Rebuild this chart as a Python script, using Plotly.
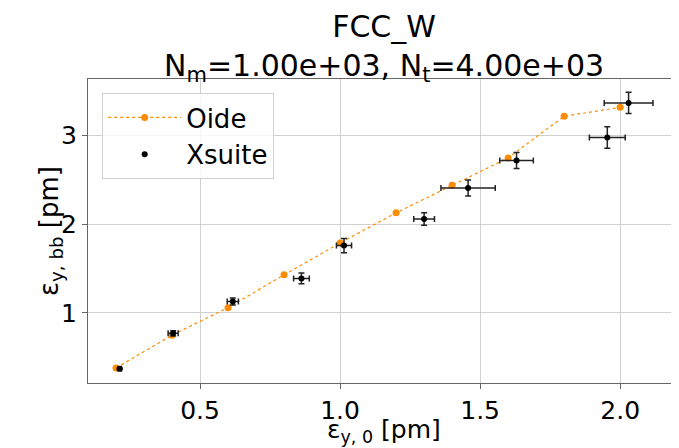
import plotly.graph_objects as go

# Oide (analytic) curve
oide_x = [0.2, 0.4, 0.6, 0.8, 1.0, 1.2, 1.4, 1.6, 1.8, 2.0]
oide_y = [0.38, 0.75, 1.06, 1.43, 1.79, 2.13, 2.44, 2.75, 3.22, 3.32]

# Xsuite simulation with errors
xs_x = [0.213, 0.404, 0.617, 0.862, 1.014, 1.30, 1.457, 1.63, 1.954, 2.03]
xs_y = [0.37, 0.77, 1.13, 1.39, 1.76, 2.06, 2.41, 2.72, 2.98, 3.37]
xs_xerr = [0.006, 0.018, 0.02, 0.028, 0.027, 0.037, 0.097, 0.06, 0.064, 0.087]
xs_yerr = [0.01, 0.03, 0.04, 0.06, 0.08, 0.07, 0.09, 0.09, 0.12, 0.12]

x_ticks = [0.5, 1.0, 1.5, 2.0]
y_ticks = [1, 2, 3]

fig = go.Figure()
fig.add_trace(go.Scatter(
    x=oide_x, y=oide_y, name="Oide", mode="lines+markers",
    line=dict(color="#ff8c00", dash="dot", width=1.2),
    marker=dict(color="#ff8c00", size=7),
))
fig.add_trace(go.Scatter(
    x=xs_x, y=xs_y, name="Xsuite", mode="markers",
    marker=dict(color="black", size=6),
    error_x=dict(type="data", array=xs_xerr, color="#222", thickness=1.5, width=3),
    error_y=dict(type="data", array=xs_yerr, color="#222", thickness=1.5, width=3),
))

font = "DejaVu Sans"
# page has an 8px body margin, so the figure is sized to fill the rest of the window
fig.update_layout(
    width=671, height=440,
    margin=dict(l=80, r=0, t=71, b=65),
    paper_bgcolor="white", plot_bgcolor="white",
    font=dict(family=font, color="black", size=25),
    showlegend=True,
    legend=dict(
        x=0.024, y=0.954, xanchor="left", yanchor="top",
        bgcolor="rgba(255,255,255,0.8)", bordercolor="#d0d0d0", borderwidth=1,
        font=dict(size=26), itemwidth=73,
    ),
    annotations=[
        dict(text="FCC_W<br>N<sub>m</sub>=1.00e+03, N<sub>t</sub>=4.00e+03",
             x=0.5, xref="paper", xanchor="center",
             y=1, yref="paper", yanchor="bottom", yshift=-10,
             showarrow=False, font=dict(size=30)),
        dict(text="ε<sub>y, 0</sub> [pm]",
             x=0.5, xref="paper", xanchor="center",
             y=0, yref="paper", yanchor="middle", yshift=-48,
             showarrow=False, font=dict(size=25)),
        dict(text="ε<sub>y, bb</sub> [pm]", textangle=-90,
             x=0, xref="paper", xanchor="center", xshift=-38,
             y=0.5, yref="paper", yanchor="middle",
             showarrow=False, font=dict(size=26)),
    ],
)
fig.update_xaxes(
    range=[0.1, 2.21], tickvals=x_ticks, ticktext=["0.5", "1.0", "1.5", "2.0"],
    showgrid=True, gridcolor="#d0d0d0", gridwidth=1,
    showline=True, linecolor="#666", linewidth=1, mirror=True,
    ticks="outside", ticklen=5, tickcolor="#666", zeroline=False, automargin=False,
)
fig.update_yaxes(
    range=[0.21, 3.64], tickvals=y_ticks,
    showgrid=True, gridcolor="#d0d0d0", gridwidth=1,
    showline=True, linecolor="#666", linewidth=1, mirror=True,
    ticks="outside", ticklen=5, tickcolor="#666", zeroline=False, automargin=False,
)

fig.write_html("out.html")
